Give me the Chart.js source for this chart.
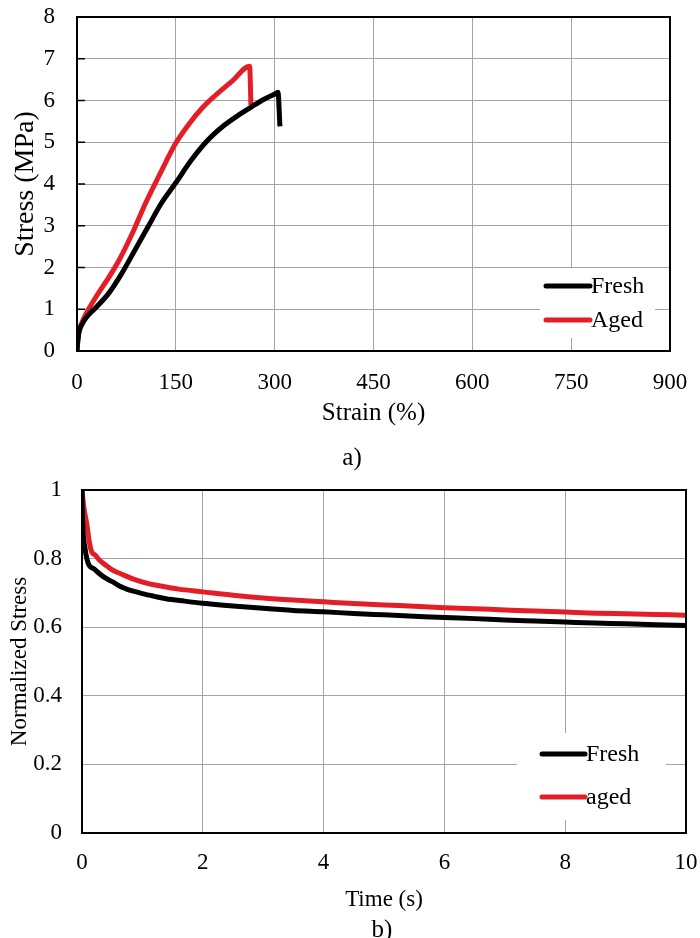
<!DOCTYPE html>
<html lang="en">
<head>
  <meta charset="UTF-8">
  <title>Stress curves</title>
  <script src="https://cdn.jsdelivr.net/npm/chart.js"></script>
  <style>
    body { margin: 0; background: #fff; font-family: "Liberation Serif", "Times New Roman", serif; }
    #pagina { position: relative; width: 700px; height: 938px; overflow: hidden; }
    .painel { position: absolute; left: 0; }
    .rotulo-fig { position: absolute; font-size: 25px; line-height: 1; transform: translate(-50%, -50%); color: #000; }
  </style>
</head>
<body>
  <div id="pagina">
    <canvas id="grafico-a" class="painel" width="700" height="470" style="top:0"></canvas>
    <canvas id="grafico-b" class="painel" width="700" height="468" style="top:470px"></canvas>
    <div class="rotulo-fig" style="left:352px; top:456px">a)</div>
    <div class="rotulo-fig" style="left:382px; top:928px">b)</div>
  </div>

  <script>
    // a) tensile test: strain (%) vs stress (MPa)
    const strainFresh = [0, 1, 3, 8, 15, 25, 48, 68, 88, 108, 128, 150, 173, 198, 223, 248, 265, 284, 303, 305, 308];
    const stressFresh = [0, 0.2, 0.45, 0.65, 0.82, 0.98, 1.38, 1.86, 2.42, 2.98, 3.54, 4.03, 4.56, 5.04, 5.4, 5.68, 5.85, 6.03, 6.18, 6.2, 5.38];
    const strainAged = [0, 1, 3, 8, 14, 29, 49, 64, 84, 104, 124, 150, 170, 190, 210, 236, 262, 264];
    const stressAged = [0, 0.22, 0.47, 0.7, 0.9, 1.3, 1.78, 2.18, 2.82, 3.54, 4.18, 4.98, 5.44, 5.82, 6.12, 6.47, 6.82, 5.88];
    const strainTicks = [0, 150, 300, 450, 600, 750, 900];
    const stressTicks = [0, 1, 2, 3, 4, 5, 6, 7, 8];

    // b) relaxation: time (s) vs normalized stress
    const timeFresh = [0, 0.01, 0.05, 0.08, 0.12, 0.2, 0.29, 0.4, 0.51, 0.62, 0.73, 0.85, 1.0, 1.2, 1.39, 1.7, 2, 2.5, 3, 3.5, 4, 4.5, 5, 5.5, 6, 6.5, 7, 7.5, 8, 8.5, 9, 9.5, 10];
    const normFresh = [1.0, 0.91, 0.83, 0.8, 0.78, 0.77, 0.756, 0.742, 0.732, 0.72, 0.712, 0.705, 0.698, 0.69, 0.683, 0.676, 0.67, 0.662, 0.655, 0.649, 0.645, 0.64, 0.636, 0.632, 0.628, 0.625, 0.621, 0.618, 0.615, 0.612, 0.61, 0.607, 0.605];
    const timeAged = [0, 0.03, 0.08, 0.12, 0.16, 0.22, 0.29, 0.4, 0.51, 0.65, 0.84, 1.1, 1.3, 1.6, 2, 2.5, 3, 3.5, 4, 4.5, 5, 5.5, 6, 6.5, 7, 7.5, 8, 8.5, 9, 9.5, 10];
    const normAged = [1.0, 0.95, 0.9, 0.85, 0.82, 0.81, 0.795, 0.78, 0.766, 0.755, 0.741, 0.727, 0.72, 0.711, 0.703, 0.693, 0.685, 0.679, 0.674, 0.669, 0.665, 0.661, 0.657, 0.654, 0.65, 0.647, 0.644, 0.641, 0.639, 0.637, 0.635];
    const timeTicks = [0, 2, 4, 6, 8, 10];
    const normTicks = [0, 0.2, 0.4, 0.6, 0.8, 1];

    const PRETO = '#000000';
    const VERMELHO = '#e41e26';
    const GRADE = '#a3a3a3';

    Chart.defaults.font.family = '"Liberation Serif", "Times New Roman", serif';
    Chart.defaults.color = '#000';

    function juntar(xs, ys) {
      return xs.map((x, i) => ({ x: x, y: ys[i] }));
    }

    // black frame around the plot area (+ optional inward ticks on the left)
    const moldura = {
      id: 'moldura',
      afterDatasetsDraw(chart, args, opts) {
        const { ctx, chartArea: a } = chart;
        ctx.save();
        ctx.strokeStyle = PRETO;
        ctx.lineWidth = 2;
        ctx.strokeRect(a.left, a.top, a.right - a.left, a.bottom - a.top);
        if (opts.marcas) {
          ctx.lineWidth = 1.5;
          chart.scales.y.ticks.forEach(t => {
            const py = chart.scales.y.getPixelForValue(t.value);
            ctx.beginPath();
            ctx.moveTo(a.left, py);
            ctx.lineTo(a.left + opts.marcas, py);
            ctx.stroke();
          });
        }
        ctx.restore();
      }
    };

    // legend drawn inside the plot, in a white box
    const legendaInterna = {
      id: 'legendaInterna',
      afterDraw(chart, args, o) {
        const ctx = chart.ctx;
        ctx.save();
        ctx.fillStyle = '#fff';
        ctx.fillRect(o.caixa[0], o.caixa[1], o.caixa[2], o.caixa[3]);
        ctx.font = o.fonte + 'px "Liberation Serif", "Times New Roman", serif';
        ctx.textBaseline = 'middle';
        chart.data.datasets.forEach((ds, i) => {
          const y = o.y + i * o.passo;
          ctx.strokeStyle = ds.borderColor;
          ctx.lineWidth = 5;
          ctx.lineCap = 'round';
          ctx.beginPath();
          ctx.moveTo(o.x, y);
          ctx.lineTo(o.x + o.comp, y);
          ctx.stroke();
          ctx.fillStyle = PRETO;
          ctx.fillText(ds.label, o.x + o.comp + 1, y + 1);
        });
        ctx.restore();
      }
    };

    function serie(label, dados, cor) {
      return {
        label: label,
        data: dados,
        borderColor: cor,
        backgroundColor: cor,
        borderWidth: 5,
        pointRadius: 0,
        showLine: true,
        cubicInterpolationMode: 'monotone',
        fill: false
      };
    }

    // fixed size for the axis box and no label overflow, so the plot area lands where we want
    function tamanhoFixo(lado, valor) {
      return s => {
        s[lado] = valor;
        s.paddingTop = 0; s.paddingBottom = 0;
        s.paddingLeft = 0; s.paddingRight = 0;
      };
    }

    function eixo(min, max, marcas, extra) {
      return Object.assign({
        type: 'linear',
        min: min,
        max: max,
        afterBuildTicks: s => { s.ticks = marcas.map(v => ({ value: v })); },
        grid: { color: GRADE, lineWidth: 1, drawTicks: false },
        border: { display: false }
      }, extra);
    }

    new Chart(document.getElementById('grafico-a'), {
      type: 'scatter',
      data: {
        datasets: [
          serie('Fresh', juntar(strainFresh, stressFresh), PRETO),
          serie('Aged', juntar(strainAged, stressAged), VERMELHO)
        ]
      },
      options: {
        responsive: false,
        animation: false,
        layout: { padding: { top: 17, right: 30, left: 0, bottom: 0 } },
        plugins: {
          legend: { display: false },
          tooltip: { enabled: false },
          moldura: { marcas: 8 },
          legendaInterna: { caixa: [540, 268, 115, 70], x: 546, y: 286, passo: 34, comp: 44, fonte: 24 }
        },
        scales: {
          x: eixo(0, 900, strainTicks, {
            afterFit: tamanhoFixo('height', 119),
            ticks: { font: { size: 23 }, padding: 18, callback: v => String(v) },
            title: { display: true, text: 'Strain (%)', font: { size: 25 }, padding: { top: 0, bottom: 42 } }
          }),
          y: eixo(0, 8, stressTicks, {
            afterFit: tamanhoFixo('width', 77),
            ticks: { font: { size: 23 }, padding: 22, callback: v => String(v) },
            title: { display: true, text: 'Stress (MPa)', font: { size: 28 }, padding: { top: 9, bottom: 0 } }
          })
        }
      },
      plugins: [moldura, legendaInterna]
    });

    new Chart(document.getElementById('grafico-b'), {
      type: 'scatter',
      data: {
        datasets: [
          serie('Fresh', juntar(timeFresh, normFresh), PRETO),
          serie('aged', juntar(timeAged, normAged), VERMELHO)
        ]
      },
      options: {
        responsive: false,
        animation: false,
        layout: { padding: { top: 20, right: 14, left: 0, bottom: 0 } },
        plugins: {
          legend: { display: false },
          tooltip: { enabled: false },
          moldura: { marcas: 0 },
          legendaInterna: { caixa: [517, 263, 149, 87], x: 542, y: 284, passo: 43, comp: 43, fonte: 24 }
        },
        scales: {
          x: eixo(0, 10, timeTicks, {
            afterFit: tamanhoFixo('height', 105),
            ticks: { font: { size: 23 }, padding: 16, callback: v => String(v) },
            title: { display: true, text: 'Time (s)', font: { size: 23 }, padding: { top: 0, bottom: 24 } }
          }),
          y: eixo(0, 1, normTicks, {
            afterFit: tamanhoFixo('width', 82),
            ticks: { font: { size: 23 }, padding: 20, callback: v => String(v) },
            title: { display: true, text: 'Normalized Stress', font: { size: 23 }, padding: { top: 6, bottom: 0 } }
          })
        }
      },
      plugins: [moldura, legendaInterna]
    });
  </script>
</body>
</html>
